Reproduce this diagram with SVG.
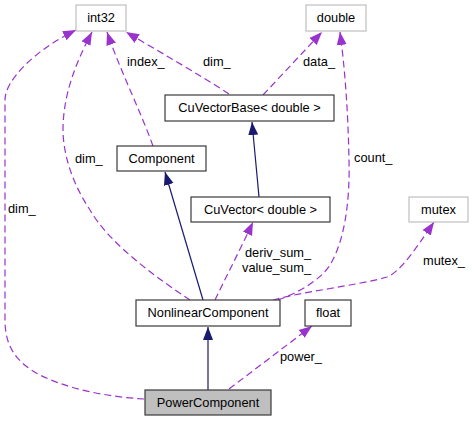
<svg xmlns="http://www.w3.org/2000/svg" width="473" height="421" viewBox="0 0 473 421">
<style>
text{font-family:"Liberation Sans",Arial,sans-serif;font-size:12.8px;fill:#000}
.n{text-anchor:middle}
.b{fill:#fff;stroke:#3a3a3a;stroke-width:1.2}
.g{fill:#fff;stroke:#bfbfbf;stroke-width:1.2}
.s{fill:#bfbfbf;stroke:#3a3a3a;stroke-width:1.2}
.u{fill:none;stroke:#9a32cd;stroke-width:1.2;stroke-dasharray:7,4;marker-end:url(#ap)}
.i{fill:none;stroke:#191970;stroke-width:1.2;marker-end:url(#ab)}
</style>
<defs>
<marker id="ap" markerUnits="userSpaceOnUse" markerWidth="14" markerHeight="12" viewBox="0 0 14 12" refX="13" refY="6" orient="auto"><path d="M0,1 L13,6 L0,11 z" fill="#9a32cd"/></marker>
<marker id="ab" markerUnits="userSpaceOnUse" markerWidth="14" markerHeight="12" viewBox="0 0 14 12" refX="13" refY="6" orient="auto"><path d="M0,1 L13,6 L0,11 z" fill="#191970"/></marker>
</defs>
<g id="edges">
<path class="i" d="M203,300 L165,172"/>
<path class="i" d="M259,197 L252,122"/>
<path class="i" d="M208,390 L208,327"/>
<path class="u" d="M144,399 C110,397 70,390 40,375 C15,362 5,345 5,320 L5,100 C5,80 35,50 76,30"/>
<path class="u" d="M190,300 C160,280 110,245 90,210 C70,180 63,150 63,130 C63,90 80,55 92,32"/>
<path class="u" d="M153,146 C140,110 120,70 107,32"/>
<path class="u" d="M229,94 C200,75 160,52 126,32"/>
<path class="u" d="M263,95 L322,32"/>
<path class="u" d="M278,300 C300,292 320,280 330,265 C345,240 350,200 349,160 C348,110 345,70 340,32"/>
<path class="u" d="M215,300 C222,285 240,250 253,222"/>
<path class="u" d="M273,300 C300,292 360,285 387,277 C400,272 415,250 434,222"/>
<path class="u" d="M229,389 L312,326"/>
<text x="8" y="213">dim_</text>
<text x="75" y="163">dim_</text>
<text x="127" y="66">index_</text>
<text x="203" y="66">dim_</text>
<text x="303" y="66">data_</text>
<text x="354" y="162">count_</text>
<text x="245" y="257">deriv_sum_</text>
<text x="242" y="272">value_sum_</text>
<text x="423" y="265">mutex_</text>
<text x="280" y="361">power_</text>
</g>
<g id="int32"><rect class="g" x="76" y="5" width="50" height="26"/><text class="n" x="101" y="22">int32</text></g>
<g id="double"><rect class="g" x="306" y="5" width="60" height="26"/><text class="n" x="336" y="22">double</text></g>
<g id="CuVectorBase"><rect class="b" x="165" y="95" width="169" height="26"/><text class="n" x="249.5" y="112">CuVectorBase&lt; double &gt;</text></g>
<g id="Component"><rect class="b" x="117" y="146" width="89" height="25"/><text class="n" x="161.5" y="163">Component</text></g>
<g id="CuVector"><rect class="b" x="191" y="197" width="139" height="25"/><text class="n" x="260.5" y="214">CuVector&lt; double &gt;</text></g>
<g id="mutex"><rect class="g" x="409" y="197" width="59" height="25"/><text class="n" x="438.5" y="214">mutex</text></g>
<g id="NonlinearComponent"><rect class="b" x="136" y="300" width="144" height="26"/><text class="n" x="208" y="317">NonlinearComponent</text></g>
<g id="float"><rect class="b" x="305" y="300" width="46" height="26"/><text class="n" x="328" y="317">float</text></g>
<g id="PowerComponent"><rect class="s" x="145" y="390" width="126" height="25"/><text class="n" x="208" y="407">PowerComponent</text></g>
</svg>
